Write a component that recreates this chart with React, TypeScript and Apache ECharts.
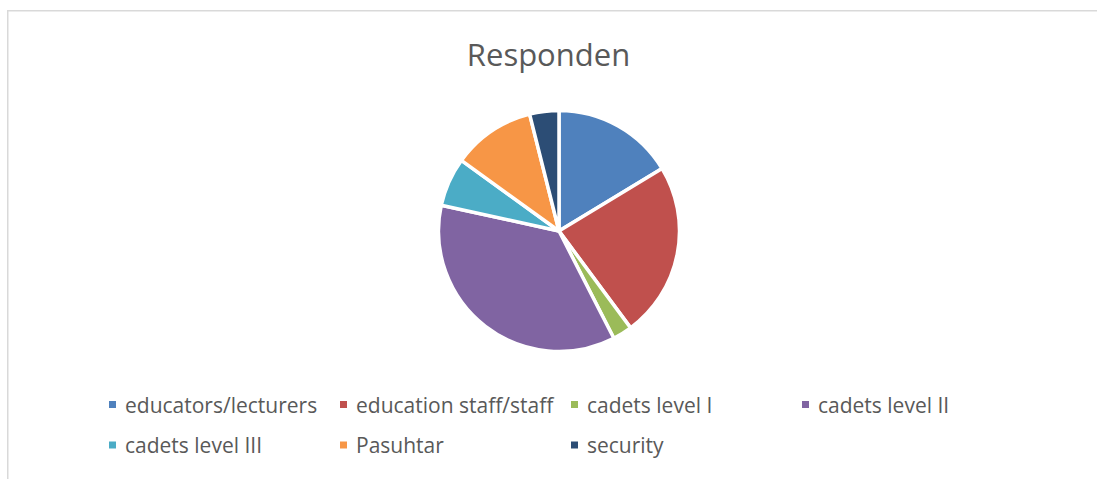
import React, { useEffect, useRef } from "react";
import * as echarts from "echarts";

const categories = [
  "educators/lecturers",
  "education staff/staff",
  "cadets level I",
  "cadets level II",
  "cadets level III",
  "Pasuhtar",
  "security",
];
const values = [25, 36, 4, 55, 10, 17, 6];
const colors = ["#4F81BD", "#C0504D", "#9BBB59", "#8064A2", "#4BACC6", "#F79646", "#2C4D75"];
const titleText = "Responden";

const legendCols = [107, 338, 569, 800];
const legendRows = [393.5, 434];

export default function App() {
  const ref = useRef<HTMLDivElement>(null);
  useEffect(() => {
    if (!ref.current) return;
    const chart = echarts.init(ref.current, undefined, { renderer: "svg" });
    const font = "'Open Sans', 'Noto Sans', sans-serif";
    const legends = categories.map((name, i) => ({
      show: true,
      data: [name],
      left: legendCols[i % 4],
      top: legendRows[Math.floor(i / 4)],
      padding: 0,
      itemWidth: 9,
      itemHeight: 9,
      icon: "rect",
      selectedMode: false,
      textStyle: {
        fontFamily: font,
        fontSize: 21,
        color: "#595959",
        lineHeight: 22,
        padding: [0, 0, 0, 3],
      },
    }));
    chart.setOption({
      animation: false,
      color: colors,
      title: {
        text: titleText,
        left: "center",
        top: 36,
        padding: 0,
        textStyle: {
          fontFamily: font,
          fontSize: 31,
          fontWeight: "normal",
          color: "#595959",
          lineHeight: 36,
        },
      },
      legend: legends,
      graphic: [
        {
          type: "line",
          shape: { x1: 7, y1: 10.75, x2: 1097, y2: 10.75 },
          style: { stroke: "#d9d9d9", lineWidth: 1.5 },
          silent: true,
        },
        {
          type: "line",
          shape: { x1: 7.75, y1: 10, x2: 7.75, y2: 479 },
          style: { stroke: "#d9d9d9", lineWidth: 1.5 },
          silent: true,
        },
      ],
      series: [
        {
          type: "pie",
          center: [559, 231],
          radius: 120.5,
          startAngle: 90,
          clockwise: true,
          label: { show: false },
          labelLine: { show: false },
          emphasis: { disabled: true },
          itemStyle: { borderColor: "#ffffff", borderWidth: 3.5 },
          data: categories.map((name, i) => ({ name, value: values[i] })),
        },
      ],
    });
    return () => chart.dispose();
  }, []);
  return (
    <div
      ref={ref}
      style={{ position: "fixed", left: 0, top: 0, width: 1097, height: 479, background: "#ffffff" }}
    />
  );
}
